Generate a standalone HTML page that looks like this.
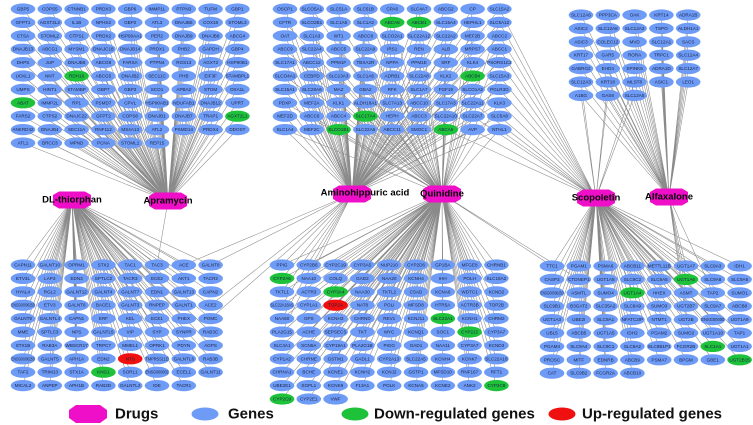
<!DOCTYPE html>
<html><head><meta charset="utf-8"><style>
html,body{margin:0;padding:0;background:#fff;}
svg{display:block;}
.n text{font-family:"Liberation Sans",sans-serif;font-size:4.6px;fill:#1a2240;text-anchor:middle;dominant-baseline:central;}
.d{font-family:"Liberation Sans",sans-serif;font-size:9.5px;font-weight:bold;fill:#000;text-anchor:middle;dominant-baseline:central;}
.lg{font-family:"Liberation Sans",sans-serif;font-size:15px;font-weight:bold;fill:#111;dominant-baseline:central;}
</style></head><body>
<svg id="s" width="753" height="425" viewBox="0 0 753 425" xmlns="http://www.w3.org/2000/svg">
<g id="edges" stroke="#8a8a8a" stroke-width="0.55" fill="none"></g>
<g id="ells"></g>
<g class="n" id="gA">
<text>GBP5</text><text>COPS5</text><text>CTNNB1</text><text>PRDX3</text><text>GBP6</text><text>IMMP1L</text><text>PTPN3</text><text>TUFM</text><text>GBP1</text>
<text>GFPT1</text><text>AGXT2L2</text><text>IL1B</text><text>NPHS2</text><text>GBP2</text><text>ATL3</text><text>DNAJB5</text><text>COX18</text><text>STOML3</text>
<text>CTSA</text><text>STOML2</text><text>CTPS1</text><text>PRDX2</text><text>HSP90AA1</text><text>PER2</text><text>DNAJB9</text><text>DNAJB8</text><text>ABCG4</text>
<text>DNAJB13</text><text>ABCG1</text><text>MYSM1</text><text>DNAJC18</text><text>DNAJB14</text><text>PRDX1</text><text>PHB2</text><text>GAPDH</text><text>GBP4</text>
<text>DHPS</text><text>JUP</text><text>DNAJB6</text><text>ABCG8</text><text>FARSA</text><text>PTPN4</text><text>RGS13</text><text>AGXT2</text><text>HSP90B1</text>
<text>UCKL1</text><text>NNT</text><text class="g">RDH16</text><text>ABCG5</text><text>DNAJB2</text><text>SEC11C</text><text>PHB</text><text>EIF3F</text><text>STAMBPL1</text>
<text>UMPS</text><text>HINT1</text><text>STAMBP</text><text>GBP7</text><text>GBP3</text><text>SCO1</text><text>APBA2</text><text>STOM</text><text>OXA1L</text>
<text class="g">ABAT</text><text>IMMP2L</text><text>RP1</text><text>PSMD7</text><text>CPVL</text><text>HSP90AB1</text><text>NDUFAB1</text><text>DNAJB12</text><text>UPRT</text>
<text>FARS2</text><text>CTPS2</text><text>DNAJC22</text><text>GFPT2</text><text>COPS6</text><text>DNAJB1</text><text>DNAJB7</text><text>TRAP1</text><text class="g">AGXT2L1</text>
<text>ANKRD42</text><text>DNAJB4</text><text>SEC11A</text><text>RNF112</text><text>MS4A13</text><text>ATL2</text><text>PSMD14</text><text>PRDX4</text><text>DDOST</text>
<text>ATL1</text><text>BRCC3</text><text>MPND</text><text>PCNA</text><text>STOML1</text><text>REP15</text>
</g>
<g class="n" id="gB">
<text>OSCP1</text><text>SLCO5A1</text><text>SLC51A</text><text>SLC51B</text><text>CPA6</text><text>SLC4A7</text><text>ABCG2</text><text>CP</text><text>SLC15A2</text>
<text>CFTR</text><text>SLCO2B1</text><text>SLC1A5</text><text>SLC1A2</text><text class="g">ABCA6</text><text class="g">ABCB1</text><text>SLC15A4</text><text>HEPHL1</text><text>SLC5A12</text>
<text>OAT</text><text>SLC1A3</text><text>WT1</text><text>ABCC8</text><text>SLCO2A1</text><text>SLC22A12</text><text>SLC22A2</text><text>MEF2B</text><text>ABCC2</text>
<text>ABCC9</text><text>SLC22A4</text><text>ABCC5</text><text>SLC22A9</text><text>IRS1</text><text>REN</text><text>ALB</text><text>MRPS7</text><text>ABCC1</text>
<text>SLC17A1</text><text>ABCC12</text><text>PPM1F</text><text>TBXA2R</text><text>NPPA</text><text>PPM1E</text><text>SRF</text><text>KLK4</text><text>PSORS1C2</text>
<text>SLCO4A1</text><text>CEBPD</text><text>SLC13A3</text><text>SLC1A6</text><text>ADRB1</text><text>SLC22A8</text><text>KLK2</text><text class="g">ABCB4</text><text>SLC15A3</text>
<text>SLC15A1</text><text>SLC28A6</text><text>MAZ</text><text>GBA2</text><text>RFK</text><text>SLC1A7</text><text>FGF19</text><text>SLCO1A2</text><text>PGLR3G</text>
<text>PDXP</text><text>MEF2A</text><text>KLK1</text><text>ALDH18A1</text><text>SLC7A13</text><text>ABCC10</text><text>SLC17A3</text><text>SLC22A11</text><text>KLK3</text>
<text>MEF2D</text><text>ABCC6</text><text>ABCC4</text><text class="g">SLC17A4</text><text>HEPH</text><text>ABCC3</text><text>SLC22A10</text><text>SLC22A7</text><text>SLC5A8</text>
<text>SLC1A4</text><text>MEF2C</text><text class="g">SLCO1B1</text><text>SLC22A6</text><text>ABCC11</text><text>SMOC1</text><text class="g">ABCA5</text><text>AVP</text><text>NTHL1</text>
</g>
<g class="n" id="gC">
<text>SLC12A6</text><text>PPP3CA</text><text>OAK</text><text>KRT14</text><text>ADRA1B</text>
<text>ASIC2</text><text>SLC12A8</text><text>SLC12A2</text><text>TSPO</text><text>ALDH1A1</text>
<text>ASIC3</text><text>COLEC12</text><text>MVD</text><text>SLC12A1</text><text>SACS</text>
<text>KRT17</text><text>GAR5</text><text>RORA</text><text>TRPC1</text><text>SLC12A4</text>
<text>GABRG2</text><text>EHD4</text><text>SPINK5</text><text>ADRA1D</text><text>SLC12A7</text>
<text>SLC12A3</text><text>KRT18</text><text>MLST8</text><text>ASIC1</text><text>LEO1</text>
<text>A1BG</text><text>GAS8</text><text>SLC12A5</text>
</g>
<g class="n" id="gD">
<text>CAPN11</text><text>GALNT10</text><text>OPRM1</text><text>STX2</text><text>TAC1</text><text>TAC3</text><text>ACE</text><text>GALNT8</text>
<text>ETV3L</text><text>LAP3</text><text>EDN3</text><text>SPTLC2</text><text>TACR3</text><text>ECE2</text><text>AKT1</text><text>TACR2</text>
<text>HYAL4</text><text>RGL2</text><text>GALNT12</text><text>GALNT4</text><text>GALNT7</text><text>EDN1</text><text>GALNT13</text><text>CAPN2</text>
<text>ENSG00000250</text><text>ETV3</text><text>GALNT6</text><text>BACE1</text><text>GALNT3</text><text>RNPEP</text><text>GALNT1</text><text>ACE2</text>
<text>GALNT9</text><text>GALNTL4</text><text>CAPN1</text><text>ERF</text><text>KEL</text><text>ECE1</text><text>PHEX</text><text>POMC</text>
<text>MME</text><text>SPTLC3</text><text>NPS</text><text>GALNTL5</text><text>VIP</text><text>SYP</text><text>SYNPR</text><text>RAB3C</text>
<text>STX1B</text><text>RAB3A</text><text>WBSCR17</text><text>TRPC7</text><text>MMEL1</text><text>OPRK1</text><text>PDYN</text><text>AGPS</text>
<text>ENSG00000250</text><text>GALNT5</text><text>APH1A</text><text>EDN2</text><text class="r">NTS</text><text>TMPRSS11D</text><text>GALNTL6</text><text>RAB3B</text>
<text>TAF2</text><text>TRIM13</text><text>STX1A</text><text class="g">KNG1</text><text>SORL1</text><text>ENSG000002</text><text>ECEL1</text><text>GALNT11</text>
<text>MICAL2</text><text>ANPEP</text><text>APH1B</text><text>RAB3D</text><text>GALNTL2</text><text>IDE</text><text>TACR1</text>
</g>
<g class="n" id="gE">
<text>PPIG</text><text>CYP2B6</text><text>CYP2C19</text><text>CYP3A5</text><text>NUP210</text><text>CYP2D6</text><text>GP1BA</text><text>MFGE8</text><text>CHRNB1</text>
<text class="g">CYP2A6</text><text>NAA10</text><text>COLQ</text><text>GAD2</text><text>NAA20</text><text>KCNH4</text><text>IHH</text><text>POLH</text><text>SLC18A2</text>
<text>TKTL1</text><text>ACTR3</text><text class="g">CYP3A4</text><text>NAA30</text><text>TKTL2</text><text>CSAD</text><text>KCNA6</text><text>WDTC1</text><text>KCND2</text>
<text>SLC22A18AS</text><text>CYP1A1</text><text class="r">TOP2A</text><text>NAT8</text><text>POLI</text><text>MFSD8</text><text>HTR5A</text><text>ACTR3B</text><text>TOP2B</text>
<text>NAA50</text><text>GPS</text><text>KCNH3</text><text>CHRND</text><text>REV1</text><text>KCNJ11</text><text class="g">SLC22A1</text><text>KCNH1</text><text>CHRM2</text>
<text>PLA2G15</text><text>ACHE</text><text>SEPSECS</text><text>TKT</text><text>MYC</text><text>KCNQ1</text><text>SOC1</text><text class="g">CYP2J2</text><text>CYP3A7</text>
<text>SLC4A1</text><text>SCN5A</text><text>CYP19A1</text><text>PLA2G1B</text><text>PIGG</text><text>GAD1</text><text>NAA11</text><text>CYP3A7</text><text>KCND3</text>
<text>CYP1A2</text><text>CHRNE</text><text>GSTM1</text><text>GADL1</text><text>CYP2A13</text><text>SLC22A5</text><text>KCNH4</text><text>KCNK7</text><text>SLC22A18</text>
<text>CHRNA1</text><text>BCHE</text><text>KCNE1</text><text>KCNH2</text><text>KCNJ2</text><text>GSTP1</text><text>MFSD10</text><text>RNF167</text><text>RFT1</text>
<text>UBE2E1</text><text>SGPL1</text><text>KCNK9</text><text>F13A1</text><text>POLK</text><text>KCNA5</text><text>KCNE2</text><text>ANK2</text><text class="g">CYP2C8</text>
<text class="g">CYP2C9</text><text>CYP2E1</text><text>VWF</text>
</g>
<g class="n" id="gF">
<text>TTC1</text><text>PGAM1</text><text>PSMA6</text><text>ABCB11</text><text>METTL11B</text><text>UGT1A7</text><text>SLC9A3</text><text>IDH1</text>
<text>CASP3</text><text>CTDNEP1</text><text>UGT1A8</text><text>SLC9C2</text><text>SLC9A5</text><text class="g">UGT1A6</text><text>SLC9A8</text><text>SLC9A6</text>
<text>ENSG00000250</text><text>ASMTL</text><text>SUMO4</text><text class="g">UGT1A4</text><text>HHEX</text><text>ASMT</text><text>TAP2</text><text>SUMO1</text>
<text>SLC9B1</text><text>B3GAT2</text><text>SLC35A2</text><text>SLC9A9</text><text>SUMO3</text><text>UGT2B7</text><text>SLC9A7</text><text>ABCB8</text>
<text>UGT1A3</text><text>UBE2I</text><text>SLC9A1</text><text>NFATC2IP</text><text>NTMT1</text><text>UGT2B</text><text>ENSG00000</text><text>UGT1A9</text>
<text>UBL5</text><text>ABCB5</text><text>UGT1A5</text><text>IDH2</text><text>PGAM2</text><text>SUMO2</text><text>UGT1A10</text><text>TAP1</text>
<text>PGAM4</text><text>SLC9A4</text><text>SLC9C1</text><text>SLC9A2</text><text>SLC9B1P1</text><text>FCGR2B</text><text class="g">SLC1A1</text><text>UGT1A1</text>
<text>PROSC</text><text>MITF</text><text>EDNRB</text><text>ABCB9</text><text>PSMA7</text><text>BPGM</text><text>GBE1</text><text class="g">UGT2B15</text>
<text>CAT</text><text>SLC9B2</text><text>FCGR2A</text><text>ABCB10</text>
</g>
<g id="drugs"></g>
<g id="dlabels">
<text class="d" x="72" y="200">DL-thiorphan</text>
<text class="d" x="168" y="201">Apramycin</text>
<text class="d" x="365" y="193">Aminohippuric acid</text>
<text class="d" x="442" y="194">Quinidine</text>
<text class="d" x="596" y="198">Scopoletin</text>
<text class="d" x="669" y="197">Alfaxalone</text>
</g>
<g id="legend">
<polygon points="76,405 100,405 107,410 107,418 100,423 76,423 69,418 69,410" fill="#f00fc8"/>
<text class="lg" x="115" y="414">Drugs</text>
<ellipse cx="205" cy="414" rx="13.5" ry="6.5" fill="#6e9bf6"/>
<text class="lg" x="228" y="414">Genes</text>
<ellipse cx="355" cy="414" rx="13.5" ry="6.5" fill="#1ec23a"/>
<text class="lg" x="374" y="414">Down-regulated genes</text>
<ellipse cx="562" cy="414" rx="13.5" ry="6.5" fill="#f01010"/>
<text class="lg" x="582" y="414">Up-regulated genes</text>
</g>
</svg>
<script>
(function(){
var NS="http://www.w3.org/2000/svg";
var grids={gA:[23,9,26.8,13.4,9],gB:[285,9,26.8,13.4,9],gC:[581,15,26.8,13.4,5],gD:[23,265,26.8,13.4,8],gE:[282,265,26.8,13.4,9],gF:[552,266,26.8,13.4,8]};
var D={thi:[72,200],apr:[168,201],ami:[352,194],qui:[442,194],sco:[596,198],alf:[669,197]};
var pos={};
var ells=document.getElementById('ells'),edges=document.getElementById('edges');
for(var id in grids){
 var g=grids[id],ts=document.getElementById(id).getElementsByTagName('text');pos[id]=[];
 for(var i=0;i<ts.length;i++){
  var x=g[0]+(i%g[4])*g[2],y=g[1]+Math.floor(i/g[4])*g[3];
  ts[i].setAttribute('x',x.toFixed(1));ts[i].setAttribute('y',y.toFixed(1));
  var w=ts[i].textContent.length>9?11:0;
  if(ts[i].textContent.length>8){ts[i].setAttribute('textLength','23');ts[i].setAttribute('lengthAdjust','spacingAndGlyphs');}
  var e=document.createElementNS(NS,'ellipse');
  e.setAttribute('cx',x);e.setAttribute('cy',y);e.setAttribute('rx',12.3);e.setAttribute('ry',5.6);
  var c=ts[i].getAttribute('class');
  e.setAttribute('fill',c=='g'?'#1ec23a':c=='r'?'#f01010':'#6e9bf6');
  ells.appendChild(e);pos[id].push([x,y]);
 }
}
var d='';
function L(a,p){d+='M'+a[0]+' '+a[1]+'L'+p[0].toFixed(1)+' '+p[1].toFixed(1);}
function all(dr,id,step,off){var a=D[dr],P=pos[id];for(var i=(off||0);i<P.length;i+=(step||1))L(a,P[i]);}
all('apr','gA');all('thi','gD');all('ami','gB');all('qui','gB',2,1);all('qui','gE');all('sco','gF');all('alf','gC');
[8,17,26,35,44,53,62,71,80,89,88,87,79,70].forEach(function(i){L(D.sco,pos.gB[i]);});
[30,31,32,25,26,27].forEach(function(i){L(D.sco,pos.gC[i]);});
L(D.apr,pos.gD[5]);
[6,7,31,39].forEach(function(i){L(D.ami,pos.gD[i]);});
[0,9,18,27,36,45].forEach(function(i){L(D.ami,pos.gE[i]);});
[0,9].forEach(function(i){L(D.qui,pos.gF[i]);});
[5,13,21,29,37,22].forEach(function(i){L(D.alf,pos.gF[i]);});
var p=document.createElementNS(NS,'path');p.setAttribute('d',d);edges.appendChild(p);
var dg=document.getElementById('drugs');
for(var k in D){var x=D[k][0],y=D[k][1],w=19,h=8.5,c=6;
 var q=document.createElementNS(NS,'polygon');
 q.setAttribute('points',[[x-w+c,y-h],[x+w-c,y-h],[x+w,y-h+3.5],[x+w,y+h-3.5],[x+w-c,y+h],[x-w+c,y+h],[x-w,y+h-3.5],[x-w,y-h+3.5]].map(function(a){return a.join(',');}).join(' '));
 q.setAttribute('fill','#f00fc8');dg.appendChild(q);}
})();
</script>
</body></html>
